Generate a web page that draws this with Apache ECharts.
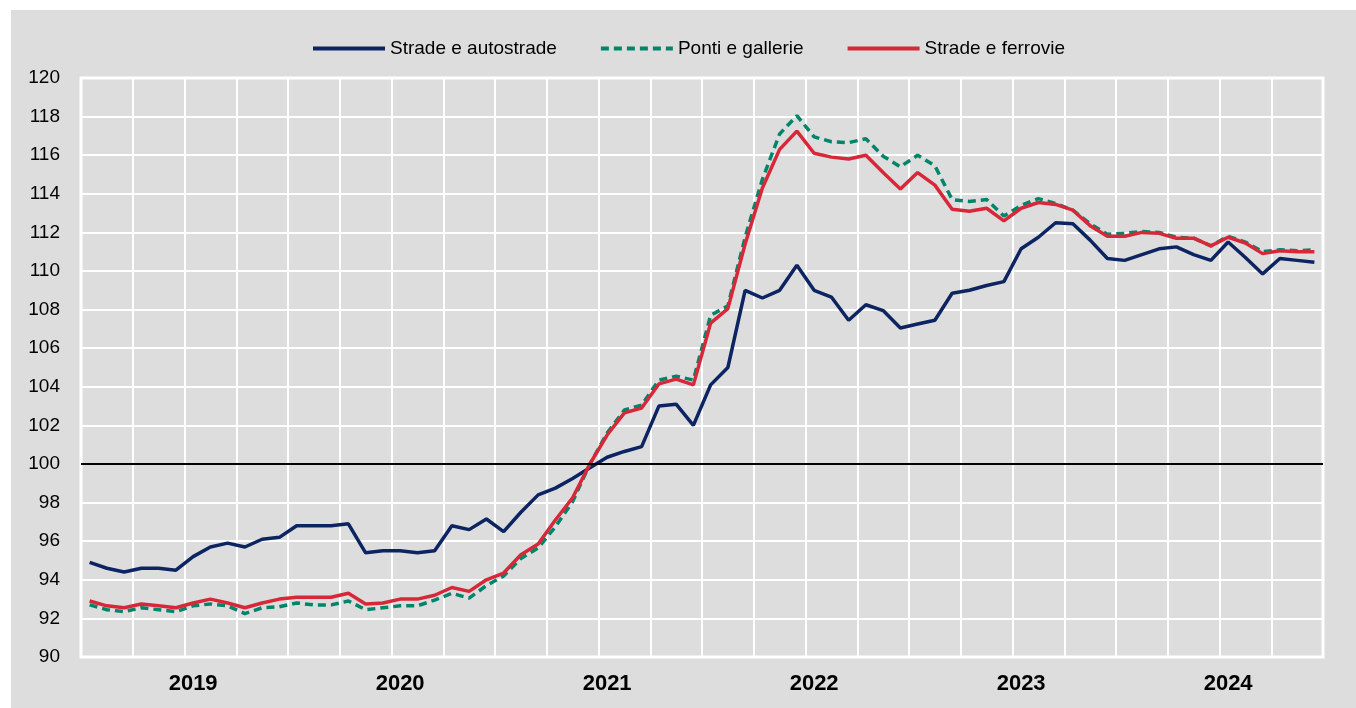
<!DOCTYPE html>
<html>
<head>
<meta charset="utf-8">
<script src="https://cdn.jsdelivr.net/npm/echarts@6/dist/echarts.min.js"></script>
<style>
  html, body { margin: 0; padding: 0; background: #ffffff; }
  #frame { position: absolute; left: 11px; top: 10px; width: 1345px; height: 698px; background: #dddddd; }
  #chart { width: 1345px; height: 698px; }
</style>
</head>
<body>
<div id="frame"><div id="chart"></div></div>
<script>
const years = ['2019', '2020', '2021', '2022', '2023', '2024']
const months = ['01', '02', '03', '04', '05', '06', '07', '08', '09', '10', '11', '12']

const stradeAutostrade = [
  94.9, 94.6, 94.4, 94.6, 94.6, 94.5, 95.2, 95.7, 95.9, 95.7, 96.1, 96.2,
  96.8, 96.8, 96.8, 96.9, 95.4, 95.5, 95.5, 95.4, 95.5, 96.8, 96.6, 97.15,
  96.5, 97.5, 98.4, 98.75, 99.25, 99.8, 100.35, 100.65, 100.9, 103.0, 103.1, 102.0,
  104.1, 105.0, 109.0, 108.6, 109.0, 110.3, 109.0, 108.65, 107.45, 108.25, 107.95, 107.05,
  107.25, 107.45, 108.85, 109.0, 109.25, 109.45, 111.15, 111.75, 112.5, 112.45, 111.6, 110.65,
  110.55, 110.85, 111.15, 111.25, 110.85, 110.55, 111.5, 110.7, 109.85, 110.65, 110.55, 110.45
]

const pontiGallerie = [
  92.7, 92.45, 92.35, 92.55, 92.45, 92.35, 92.65, 92.75, 92.65, 92.25, 92.55, 92.6,
  92.8, 92.7, 92.7, 92.9, 92.45, 92.55, 92.65, 92.65, 92.95, 93.3, 93.05, 93.7,
  94.2, 95.1, 95.65, 96.75, 98.05, 100.0, 101.6, 102.8, 103.05, 104.35, 104.55, 104.35,
  107.7, 108.2, 111.75, 114.75, 117.1, 118.05, 116.95, 116.7, 116.65, 116.85, 115.95, 115.4,
  116.0, 115.45, 113.7, 113.6, 113.7, 112.85, 113.4, 113.75, 113.5, 113.15, 112.45, 111.9,
  111.95, 112.05, 112.0, 111.75, 111.7, 111.3, 111.8, 111.5, 111.0, 111.1, 111.05, 111.1
]

const stradeFerrovie = [
  92.9, 92.65, 92.55, 92.75, 92.65, 92.55, 92.8, 93.0, 92.8, 92.55, 92.8, 93.0,
  93.1, 93.1, 93.1, 93.3, 92.75, 92.8, 93.0, 93.0, 93.2, 93.6, 93.4, 94.0,
  94.35, 95.3, 95.85, 97.1, 98.25, 100.0, 101.5, 102.65, 102.9, 104.15, 104.4, 104.1,
  107.3, 108.05, 111.4, 114.3, 116.3, 117.25, 116.1, 115.9, 115.8, 116.0, 115.1, 114.25,
  115.1, 114.45, 113.2, 113.1, 113.25, 112.6, 113.25, 113.55, 113.45, 113.15, 112.35, 111.8,
  111.8, 112.0, 111.95, 111.7, 111.7, 111.3, 111.75, 111.45, 110.9, 111.05, 111.0, 111.0
]

// one category per month, label shown once per year
const categories = []
years.forEach((year) => months.forEach((month) => categories.push(`${year}-${month}`)))

const labelFont = "'Liberation Sans', Arial, sans-serif"

const chart = echarts.init(document.getElementById('chart'), null, { renderer: 'canvas' })

const lineSeries = (name, data, color, type) => ({
  name,
  type: 'line',
  data,
  symbol: 'none',
  smooth: false,
  lineStyle: { color, width: 3.5, type },
  itemStyle: { color }
})

chart.setOption({
  backgroundColor: 'transparent',
  animation: false,
  textStyle: { fontFamily: labelFont },
  legend: {
    top: 24,
    left: 295,
    itemWidth: 72,
    itemHeight: 12,
    itemGap: 42,
    itemStyle: { opacity: 0 },
    lineStyle: { width: 4 },
    textStyle: { color: '#000000', fontSize: 19, fontFamily: labelFont },
    data: ['Strade e autostrade', 'Ponti e gallerie', 'Strade e ferrovie']
  },
  grid: {
    left: 70,
    right: 33,
    top: 68,
    bottom: 51,
    show: true,
    borderColor: '#ffffff',
    borderWidth: 3,
    backgroundColor: 'transparent'
  },
  xAxis: {
    type: 'category',
    data: categories,
    boundaryGap: true,
    axisLine: { show: false },
    axisTick: { show: false },
    axisLabel: {
      interval: (index) => index % 12 === 6,
      formatter: (value) => value.slice(0, 4),
      color: '#000000',
      fontSize: 22,
      fontWeight: 'bold',
      fontFamily: labelFont,
      margin: 16
    },
    splitLine: {
      show: true,
      interval: (index) => index % 3 === 0,
      lineStyle: { color: '#ffffff', width: 2 }
    }
  },
  yAxis: {
    type: 'value',
    min: 90,
    max: 120,
    interval: 2,
    axisLine: { show: false },
    axisTick: { show: false },
    axisLabel: { color: '#000000', fontSize: 19, fontFamily: labelFont, margin: 21 },
    splitLine: { lineStyle: { color: '#ffffff', width: 2 } }
  },
  series: [
    {
      ...lineSeries('Strade e autostrade', stradeAutostrade, '#0c2461', 'solid'),
      markLine: {
        silent: true,
        symbol: 'none',
        label: { show: false },
        lineStyle: { color: '#000000', width: 2, type: 'solid' },
        data: [{ yAxis: 100 }]
      }
    },
    lineSeries('Ponti e gallerie', pontiGallerie, '#00856a', [8, 5]),
    lineSeries('Strade e ferrovie', stradeFerrovie, '#d62839', 'solid')
  ]
})
</script>
</body>
</html>
